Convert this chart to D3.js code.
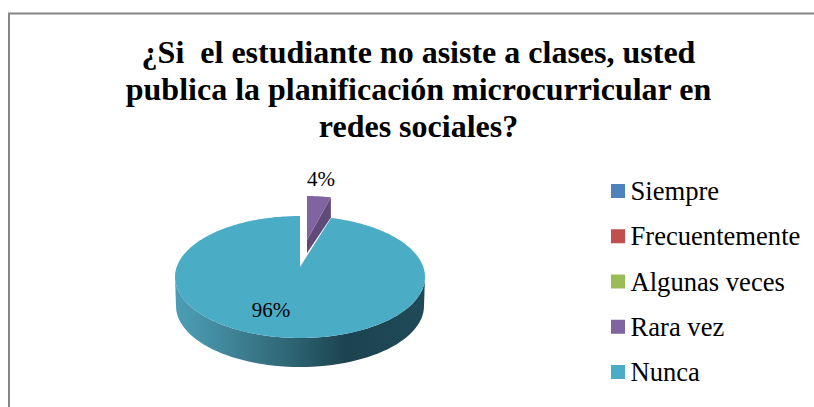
<!DOCTYPE html>
<meta charset="utf-8" />
<script src="https://d3js.org/d3.v7.min.js"></script>
<style>
  body { margin: 0; background: #fff; }
  text { font-family: "Liberation Serif", serif; fill: #000; }
</style>
<body>
  <div id="chart"></div>
  <script>
    // values
    var categories = ["Siempre", "Frecuentemente", "Algunas veces", "Rara vez", "Nunca"];
    var values = [0, 0, 0, 4, 96];
    var colors = ["#4f81bd", "#c0504d", "#9bbb59", "#8064a2", "#4bacc6"];
    var darkColors = { "Rara vez": "#5f4a7a" };
    var titleLines = [
      "¿Si  el estudiante no asiste a clases, usted",
      "publica la planificación microcurricular en",
      "redes sociales?"
    ];

    var width = 814, height = 407;

    var svg = d3.select("#chart").append("svg")
      .attr("width", width)
      .attr("height", height)
      .style("display", "block");

    // frame, only left and top are in the picture
    svg.append("path")
      .attr("d", "M9," + height + "V13.5H" + width)
      .attr("fill", "none")
      .attr("stroke", "#868686")
      .attr("stroke-width", 2);

    // title
    svg.append("g").selectAll("text")
      .data(titleLines)
      .enter().append("text")
      .attr("x", 418.5)
      .attr("y", function(d, i) { return 63 + i * 37; })
      .attr("text-anchor", "middle")
      .attr("font-size", 32)
      .attr("font-weight", "bold")
      .style("white-space", "pre")
      .text(function(d) { return d; });

    var slices = d3.pie().sort(null)(values);
    var big = slices[4], small = slices[3];

    // gradient on the outer wall of the big slice
    var grad = svg.append("defs").append("linearGradient")
      .attr("id", "wall")
      .attr("gradientUnits", "userSpaceOnUse")
      .attr("x1", 175).attr("x2", 425).attr("y1", 0).attr("y2", 0);
    [[0, "#4b9db5"], [0.1, "#4794aa"], [0.45, "#2f6675"], [0.68, "#1c4450"], [1, "#1f4a56"]]
      .forEach(function(s) {
        grad.append("stop").attr("offset", s[0]).attr("stop-color", s[1]);
      });

    // big slice: ellipse centre, apex is higher because of the perspective
    var cx = 300, cy = 277, rx = 125, ry = 61;
    var apexY = 267;
    var wallBottom = { cy: 306, rx: 124, ry: 61 };

    // wall, lower half of the ellipse
    var wallAngles = d3.range(90, 271, 3).map(function(a) { return a * Math.PI / 180; });
    var wallLine = d3.line();
    var topEdge = wallAngles.map(function(a) {
      return [cx + rx * Math.sin(a), cy - ry * Math.cos(a)];
    });
    var bottomEdge = wallAngles.map(function(a) {
      return [cx + wallBottom.rx * Math.sin(a), wallBottom.cy - wallBottom.ry * Math.cos(a)];
    }).reverse();
    svg.append("path")
      .attr("d", wallLine(topEdge.concat(bottomEdge)) + "Z")
      .attr("fill", "url(#wall)");

    // top face of the big slice
    var bigPts = [[cx, apexY]];
    d3.range(big.startAngle, big.endAngle, 0.02).concat([big.endAngle]).forEach(function(a) {
      bigPts.push([cx + rx * Math.sin(a), cy - ry * Math.cos(a)]);
    });
    svg.append("path")
      .attr("d", wallLine(bigPts) + "Z")
      .attr("fill", colors[4]);

    // small slice, pulled out and further away so it looks smaller
    var sx = 307, sy = 240, srx = 96, sry = 44;
    var smallPts = [[sx, sy]];
    d3.range(small.startAngle, small.endAngle, 0.02).concat([small.endAngle]).forEach(function(a) {
      smallPts.push([sx + srx * Math.sin(a), sy - sry * Math.cos(a)]);
    });
    var smallEnd = smallPts[smallPts.length - 1];

    // cut face of the small slice
    svg.append("path")
      .attr("d", wallLine([[sx, sy], smallEnd, [smallEnd[0], smallEnd[1] + 20], [sx, sy + 13]]) + "Z")
      .attr("fill", darkColors["Rara vez"]);
    svg.append("path")
      .attr("d", wallLine(smallPts) + "Z")
      .attr("fill", colors[3]);

    // percent labels
    svg.append("text").attr("x", 321).attr("y", 186)
      .attr("text-anchor", "middle").attr("font-size", 21)
      .text(values[3] + "%");
    svg.append("text").attr("x", 271).attr("y", 317)
      .attr("text-anchor", "middle").attr("font-size", 21)
      .text(values[4] + "%");

    // legend
    var legendY = d3.scalePoint().domain(categories).range([191, 372]);
    var legend = svg.append("g").selectAll("g")
      .data(categories)
      .enter().append("g")
      .attr("transform", function(d) { return "translate(611," + legendY(d) + ")"; });
    legend.append("rect")
      .attr("y", -7).attr("width", 14).attr("height", 14)
      .attr("fill", function(d, i) { return colors[i]; });
    legend.append("text")
      .attr("x", 19.5).attr("y", 9)
      .attr("font-size", 26.6)
      .text(function(d) { return d; });
  </script>
</body>
